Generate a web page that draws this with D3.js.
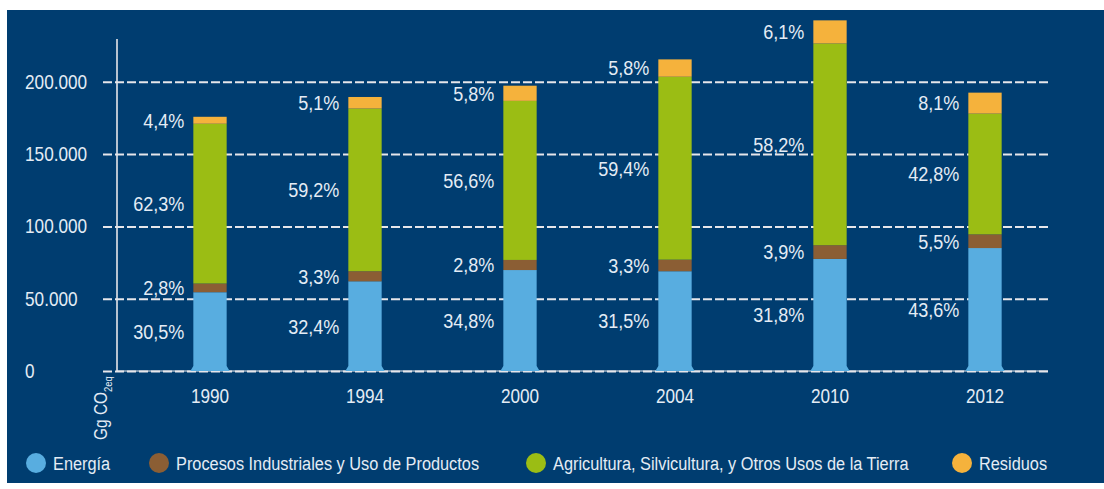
<!DOCTYPE html>
<html>
<head>
<meta charset="utf-8">
<script src="https://cdn.jsdelivr.net/npm/d3@7"></script>
<style>
	html, body { margin: 0; padding: 0; background: #fff; }
	svg { display: block; }
	text { font-family: "Liberation Sans", Arial, sans-serif; fill: #e4ecf5; }
</style>
</head>
<body>
<div id="chart"></div>
<script>
// Emisiones por sector (Gg CO2eq)
var years = ["1990", "1994", "2000", "2004", "2010", "2012"];
var energia = [54500, 62000, 69800, 69000, 77500, 85000];
var procesos = [6000, 7000, 7000, 8000, 9500, 9500];
var agricultura = [110500, 112500, 110000, 126500, 139500, 83500];
var residuos = [4800, 8000, 10500, 12000, 16000, 14500];

// share labels printed next to each segment
var pctEnergia = ["30,5%", "32,4%", "34,8%", "31,5%", "31,8%", "43,6%"];
var pctProcesos = ["2,8%", "3,3%", "2,8%", "3,3%", "3,9%", "5,5%"];
var pctAgricultura = ["62,3%", "59,2%", "56,6%", "59,4%", "58,2%", "42,8%"];
var pctResiduos = ["4,4%", "5,1%", "5,8%", "5,8%", "6,1%", "8,1%"];

var seriesNames = ["Energía", "Procesos Industriales y Uso de Productos", "Agricultura, Silvicultura, y Otros Usos de la Tierra", "Residuos"];
var yTicks = [0, 50000, 100000, 150000, 200000];

var keys = ["energia", "procesos", "agricultura", "residuos"];
var colors = ["#58ade0", "#8b5e34", "#9bbd14", "#f5b23c"];
var pcts = [pctEnergia, pctProcesos, pctAgricultura, pctResiduos];

// no narrow font installed, so squeeze the regular one
var SQ = 0.86;

var table = years.map((y, i) => ({
	year: y,
	energia: energia[i],
	procesos: procesos[i],
	agricultura: agricultura[i],
	residuos: residuos[i]
}));

var width = 1104, height = 489;
var svg = d3.select("#chart").append("svg")
	.attr("width", width)
	.attr("height", height);

// dark blue panel
svg.append("rect")
	.attr("x", 7).attr("y", 10)
	.attr("width", width - 7).attr("height", 473)
	.attr("fill", "#003d70");

var mapX = d3.scaleBand().domain(years).range([132.5, 1062.5])
	.paddingInner(0.785).paddingOuter(0.3925);
var mapY = d3.scaleLinear().domain([0, 50000]).range([371, 298.7]);

var locale = d3.formatLocale({ decimal: ",", thousands: ".", grouping: [3], currency: ["", ""] });
var fmt = locale.format(",");

function label(parent, str, x, y, size, anchor) {
	return parent.append("text")
		.text(str)
		.attr("transform", `translate(${x},${y}) scale(${SQ},1)`)
		.attr("dy", "0.35em")
		.attr("text-anchor", anchor)
		.attr("font-size", size);
}

// gridlines + tick labels
var gGrid = svg.append("g")
	.attr("transform", "translate(1048,0)")
	.call(d3.axisLeft(mapY).tickValues(yTicks).tickFormat(fmt).tickSize(946));
gGrid.select(".domain").remove();
gGrid.selectAll(".tick line")
	.attr("stroke", "#e6e6ea")
	.attr("stroke-width", 2)
	.attr("stroke-dasharray", "9,3");
gGrid.selectAll(".tick text")
	.attr("x", (25 - 1048) / SQ)
	.attr("transform", `scale(${SQ},1)`)
	.attr("text-anchor", "start")
	.attr("font-size", 20)
	.attr("fill", "#e4ecf5");

// axis lines
svg.append("line")
	.attr("x1", 117).attr("x2", 117)
	.attr("y1", 39).attr("y2", mapY(0))
	.attr("stroke", "#e6e6ea").attr("stroke-width", 1.6);
svg.append("line")
	.attr("x1", 117).attr("x2", 1048)
	.attr("y1", mapY(0)).attr("y2", mapY(0))
	.attr("stroke", "#e6e6ea").attr("stroke-width", 1.4).attr("opacity", 0.7);

// year labels
var gX = svg.append("g")
	.attr("transform", `translate(0, ${mapY(0)})`)
	.call(d3.axisBottom(mapX).tickSize(0).tickPadding(18));
gX.select(".domain").remove();
gX.selectAll("text")
	.attr("transform", `scale(${SQ},1)`)
	.attr("font-size", 20)
	.attr("fill", "#e4ecf5");

// stacked bars
var stacked = d3.stack().keys(keys)(table);
var bw = mapX.bandwidth();
stacked.forEach((layer, k) => {
	var g = svg.append("g").attr("fill", colors[k]);
	layer.forEach((d, i) => {
		var x0 = mapX(years[i]);
		var yTop = mapY(d[1]), yBot = mapY(d[0]);
		if (k == 0) {
			// flared foot on the base segment
			var f = 3;
			g.append("path").attr("d",
				`M${x0},${yTop}H${x0 + bw}V${yBot - 5}L${x0 + bw + f},${yBot}H${x0 - f}L${x0},${yBot - 5}Z`);
		} else {
			g.append("rect")
				.attr("x", x0).attr("y", yTop)
				.attr("width", bw).attr("height", yBot - yTop);
		}
		label(svg, pcts[k][i], x0 - 9, (yTop + yBot) / 2, 21, "end");
	});
});

// unit label
var unit = svg.append("text")
	.attr("transform", `translate(107,440) rotate(-90) scale(${SQ},1)`)
	.attr("font-size", 18);
unit.append("tspan").text("Gg CO");
unit.append("tspan").text("2eq").attr("font-size", 11).attr("dy", 5);

// legend
var legendX = [36, 159, 536, 962];
var legend = svg.append("g").attr("transform", "translate(0,463)");
seriesNames.forEach((name, k) => {
	legend.append("circle")
		.attr("cx", legendX[k]).attr("cy", 0).attr("r", 10)
		.attr("fill", colors[k]);
	label(legend, name, legendX[k] + 17, 0, 19, "start");
});
</script>
</body>
</html>
